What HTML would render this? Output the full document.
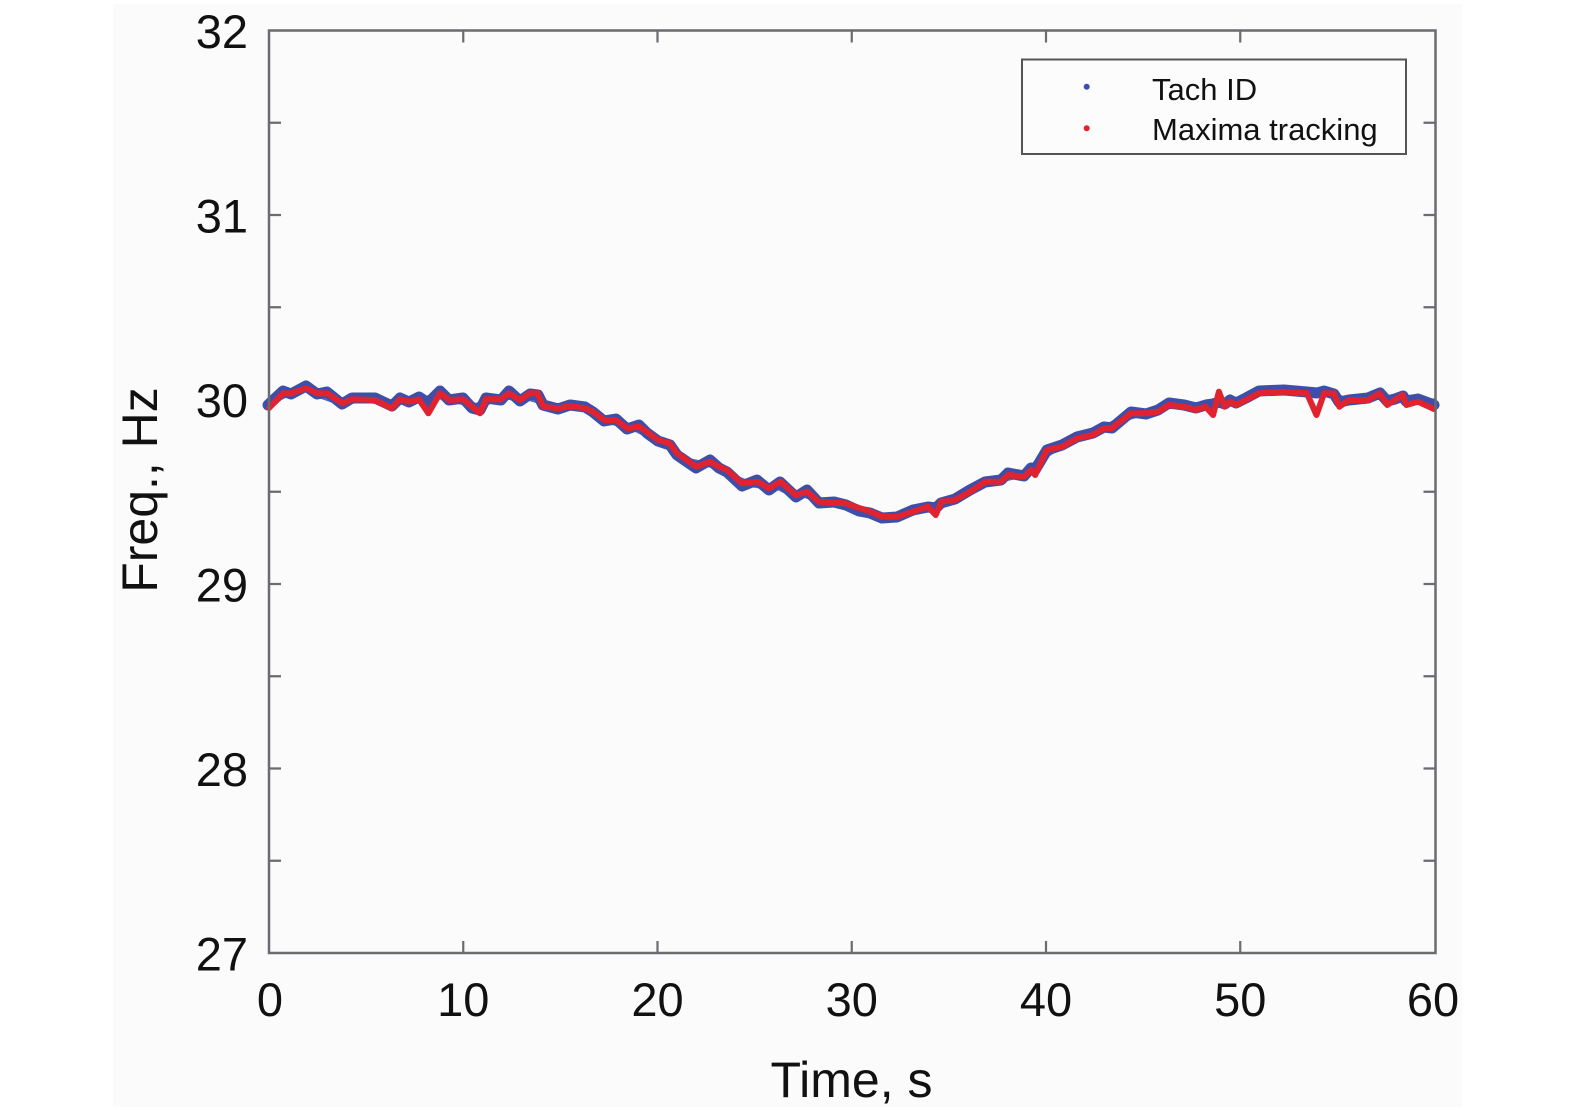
<!DOCTYPE html>
<html>
<head>
<meta charset="utf-8">
<style>
html,body{margin:0;padding:0;background:#ffffff;}
svg{display:block;}
text{font-family:"Liberation Sans","DejaVu Sans",sans-serif;fill:#111;}
</style>
</head>
<body>
<svg width="1575" height="1110" viewBox="0 0 1575 1110" xmlns="http://www.w3.org/2000/svg">
<rect x="0" y="0" width="1575" height="1110" fill="#ffffff"/>
<rect x="113" y="4" width="1349" height="1103" fill="#fbfbfb"/>

<!-- ticks -->
<g stroke="#6b6b70" stroke-width="2.2" fill="none">
  <path d="M269 122.75h12 M269 215h12 M269 307.25h12 M269 399.5h12 M269 491.75h12 M269 584h12 M269 676.25h12 M269 768.5h12 M269 860.75h12"/>
  <path d="M1435.5 122.75h-12 M1435.5 215h-12 M1435.5 307.25h-12 M1435.5 399.5h-12 M1435.5 491.75h-12 M1435.5 584h-12 M1435.5 676.25h-12 M1435.5 768.5h-12 M1435.5 860.75h-12"/>
  <path d="M463.25 30.5v12 M657.5 30.5v12 M851.75 30.5v12 M1046 30.5v12 M1240.25 30.5v12"/>
  <path d="M463.25 953v-12 M657.5 953v-12 M851.75 953v-12 M1046 953v-12 M1240.25 953v-12"/>
</g>

<!-- data: Tach ID (blue) -->
<polyline fill="none" stroke="#3d4fa8" stroke-width="11" stroke-linejoin="round" stroke-linecap="round"
points="268,405 283,391 291,394 306,386 317,394 327,392 342,404 352,398 375,398 392,406 400,398 409,402 419,397 428,403 440,391 449,400 463,398 472,408 480,410 486,398 501,400 509,391 520,401 530,394 538,395 543,405 558,409 570,405 585,407 593,412 604,421 616,419 627,429 639,425 647,433 658,441 670,445 677,455 696,468 710,460 719,468 727,472 742,486 757,480 769,490 780,482 796,497 807,490 819,503 834,502 846,505 859,511 870,513 882,518 897,517 913,510 928,507 936,508 941,503 955,499 970,490 985,482 1001,480 1008,473 1024,476 1031,468 1035,470 1047,450 1062,445 1077,437 1093,433 1104,427 1112,428 1131,412 1146,414 1158,410 1169,403 1184,405 1196,408 1206,405 1213,404 1219,402 1225,404 1230,400 1236,403 1246,398 1259,391 1284,390 1307,392 1317,393 1324,391 1334,394 1339,402 1349,400 1368,398 1380,393 1387,401 1395,399 1403,396 1406,401 1418,399 1434,405"/>
<polyline fill="none" stroke="#3d4fa8" stroke-width="6" stroke-linejoin="round" stroke-linecap="round" opacity="0.85"
points="270,402 285,395 295,391 304,389 312,391 322,396 336,401 348,402 360,399 384,402 396,403 404,401 414,398 424,400 434,396 446,397 458,401 468,403 476,406 490,401 504,396 515,398 526,397 540,401 552,407 566,407 580,405 598,416 610,421 622,425 634,428 652,437 664,443 674,450 688,461 703,464 714,465 735,478 750,484 763,486 776,486 790,493 802,494 814,498 828,504 840,505 852,508 864,513 878,516 892,519 906,514 920,508 932,506 948,501 962,495 978,486 994,481 1012,477 1028,472 1040,459 1055,449 1070,441 1086,434 1100,430 1122,419 1140,414 1152,411 1164,406 1178,405 1190,409 1201,406 1215,405 1228,402 1242,400 1254,394 1270,391 1292,391 1312,393 1330,392 1345,401 1360,399 1374,396 1390,399 1400,397 1412,400 1426,402 1434,406"/>

<!-- data: Maxima tracking (red) -->
<polyline fill="none" stroke="#e1222f" stroke-width="6" stroke-linejoin="round" stroke-linecap="round"
points="269,408 283,393.3 290.6,393.3 306,388.3 317.4,393.3 327,393.3 342.3,403.3 351.8,399.3 374.8,400 392,408.3 399.7,399.3 409.3,401.7 418.8,399.3 428.4,413.3 439.9,393.3 449.4,400 462.8,399.3 472.4,406.7 480,413.3 485.8,399.3 501.1,399.3 508.8,393.3 520.2,400 529.8,393.3 537.5,393.3 543.2,406.7 558.5,408.3 570,406 585.3,408.3 593,411.7 604.4,420 615.9,420 627.4,428.3 638.9,426.7 646.5,431.7 658,440 669.5,443.3 677.1,453.3 696.3,466.7 709.7,461.7 719.2,466.7 726.9,470 742.2,483.3 757.5,481.7 769,488.3 780.5,481.7 795.8,495 807.3,491.7 818.7,501.7 834,502.7 845.5,503.3 855.3,506.7 870.6,511.7 882.1,516.7 897.4,516.7 912.7,511.7 928,506.7 935.7,515 941.4,501.7 954.8,500 970.1,491.7 985.4,481.7 1000.7,481.7 1008.4,475 1023.7,476.7 1031.4,470 1035.2,475 1046.7,450 1062,446.7 1077.3,438.3 1092.6,435 1104.1,428.3 1111.7,428.3 1130.9,413.3 1146.2,413.3 1157.7,411.7 1169.1,405 1184.4,406.7 1195.9,410 1205.5,406.7 1213.1,415 1218.9,391.7 1224.6,406.7 1230.4,401.7 1236.1,405 1245.7,400 1259.1,393.3 1284,391.7 1306.9,393.3 1316.5,415 1324.1,393.3 1333.7,393.3 1339.4,406.7 1349,400 1368.1,400 1379.6,393.3 1387.2,405 1394.9,400 1402.6,395 1406.4,405 1417.9,401.7 1434,409"/>

<!-- axes box -->
<rect x="269" y="30.5" width="1166.5" height="922.5" fill="none" stroke="#6b6b70" stroke-width="2.5"/>

<!-- legend -->
<rect x="1022" y="59.5" width="384" height="94.5" fill="#fcfcfc" stroke="#555558" stroke-width="2"/>
<circle cx="1086.7" cy="86.7" r="3" fill="#3d4fa8"/>
<circle cx="1086.7" cy="128.3" r="3" fill="#e1222f"/>
<text x="1152" y="100" font-size="31">Tach ID</text>
<text x="1152" y="140" font-size="31">Maxima tracking</text>

<!-- y tick labels -->
<g font-size="47" text-anchor="end">
  <text x="248" y="48">32</text>
  <text x="248" y="232.5">31</text>
  <text x="248" y="417">30</text>
  <text x="248" y="601.5">29</text>
  <text x="248" y="786">28</text>
  <text x="248" y="970.5">27</text>
</g>

<!-- x tick labels -->
<g font-size="47" text-anchor="middle">
  <text x="270" y="1016">0</text>
  <text x="463.25" y="1016">10</text>
  <text x="657.5" y="1016">20</text>
  <text x="851.75" y="1016">30</text>
  <text x="1046" y="1016">40</text>
  <text x="1240.25" y="1016">50</text>
  <text x="1433" y="1016">60</text>
</g>

<!-- axis labels -->
<text x="851.5" y="1097" font-size="50" text-anchor="middle">Time, s</text>
<text transform="translate(157,490) rotate(-90)" x="0" y="0" font-size="50" text-anchor="middle">Freq., Hz</text>
</svg>
</body>
</html>
